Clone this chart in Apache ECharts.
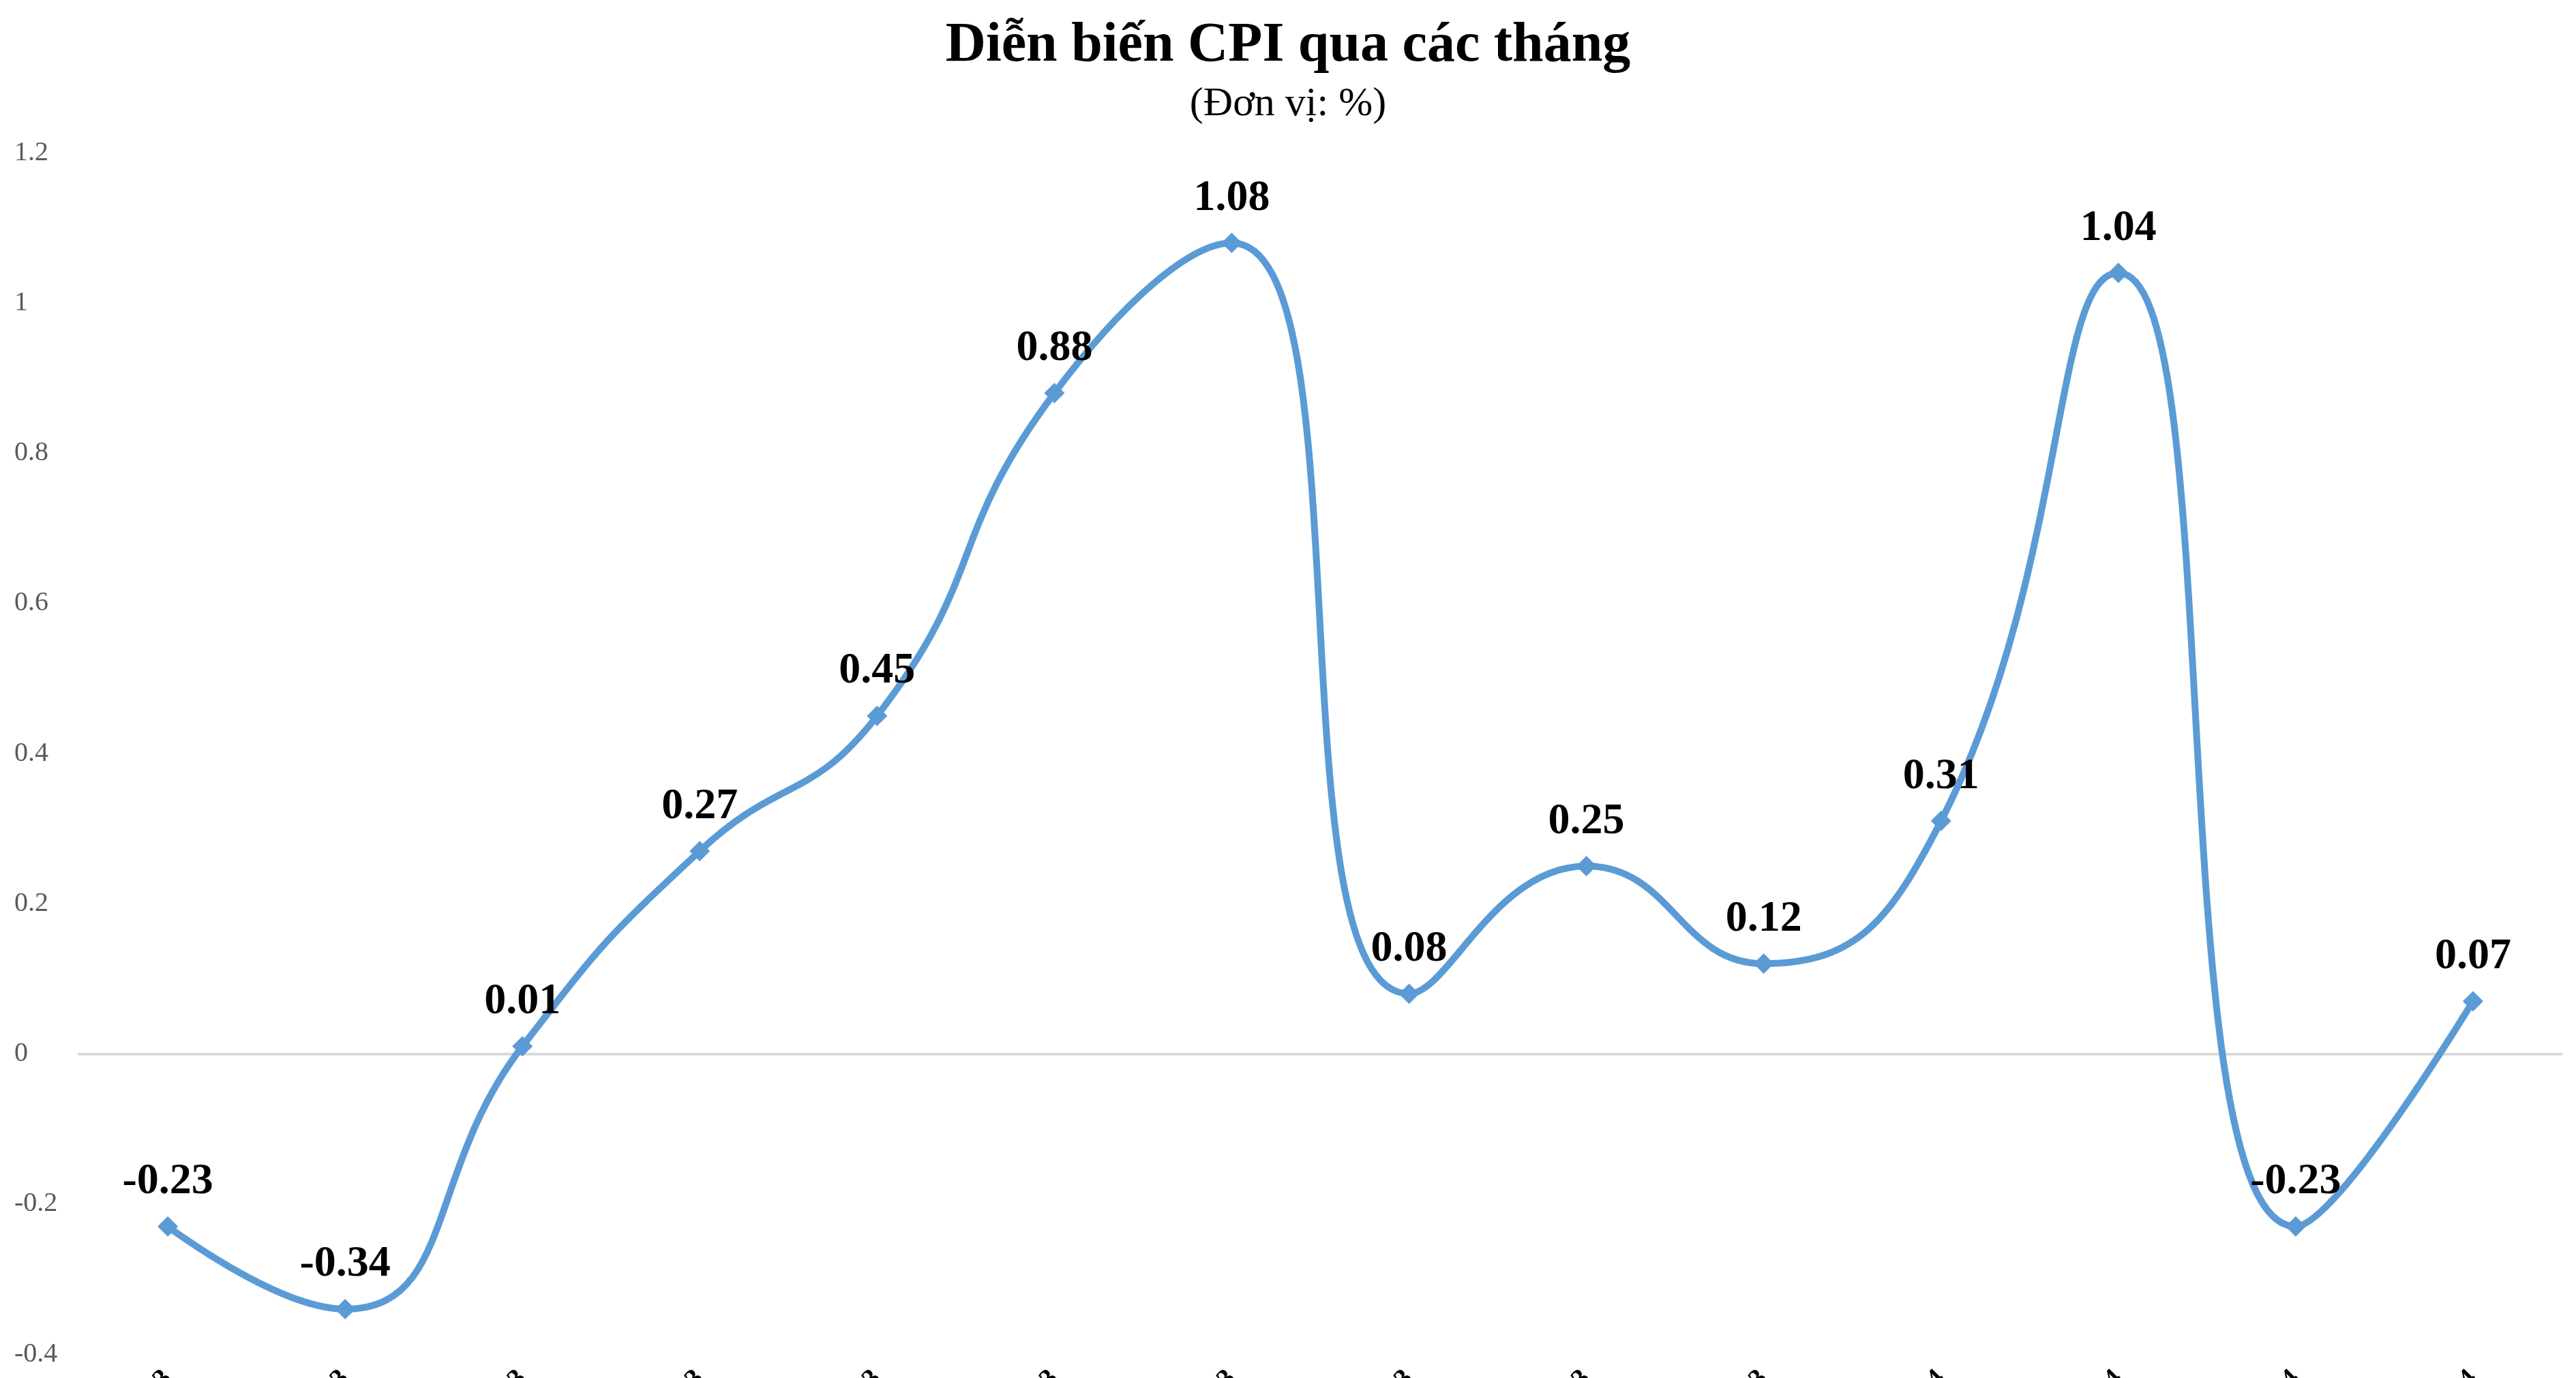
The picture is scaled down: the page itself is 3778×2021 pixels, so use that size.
<!DOCTYPE html>
<html><head><meta charset="utf-8">
<script src="https://cdn.jsdelivr.net/npm/echarts@6/dist/echarts.min.js"></script>
<style>html,body{margin:0;padding:0;background:#fff}#c{width:3778px;height:2021px}</style>
</head><body><div id="c"></div>
<script>
const categories = ['T3.2023','T4.2023','T5.2023','T6.2023','T7.2023','T8.2023','T9.2023','T10.2023','T11.2023','T12.2023','T1.2024','T2.2024','T3.2024','T4.2024'];
const cpiValues = [-0.23,-0.34,0.01,0.27,0.45,0.88,1.08,0.08,0.25,0.12,0.31,1.04,-0.23,0.07];
const yTicks = {min:-0.4,max:1.2,interval:0.2};
const chart = echarts.init(document.getElementById('c'));
const serif = '"Liberation Serif","Times New Roman",serif';
chart.setOption({
  backgroundColor:'#fff',
  title:{text:'Diễn biến CPI qua các tháng',subtext:'(Đơn vị: %)',left:'center',top:22,itemGap:14,
    textStyle:{fontFamily:serif,fontWeight:'bold',fontSize:82,color:'#000'},
    subtextStyle:{fontFamily:serif,fontSize:60,color:'#000'}},
  grid:{left:116,right:21,top:224,bottom:35,containLabel:false,outerBoundsMode:'none'},
  xAxis:{type:'category',data:categories,boundaryGap:true,
    axisLine:{show:true,onZero:true,lineStyle:{color:'#D9D9D9',width:4}},axisTick:{show:false},
    axisLabel:{rotate:45,margin:30,fontFamily:serif,fontWeight:'bold',fontSize:40,color:'#000'}},
  yAxis:{type:'value',min:yTicks.min,max:yTicks.max,interval:yTicks.interval,
    axisLabel:{fontFamily:serif,fontSize:40,color:'#595959',margin:95,align:'left',
      formatter:v=>String(+v.toFixed(1))},
    splitLine:{show:false},
    axisLine:{show:false}},
  series:[{type:'line',data:cpiValues,smooth:0.5,symbol:'diamond',symbolSize:30,
    lineStyle:{color:'#5B9BD5',width:10},itemStyle:{color:'#5B9BD5'},
    label:{show:true,position:'top',distance:18,fontFamily:serif,fontWeight:'bold',fontSize:64,color:'#000',
      formatter:p=>p.value.toFixed(2)}}]
});
</script></body></html>
